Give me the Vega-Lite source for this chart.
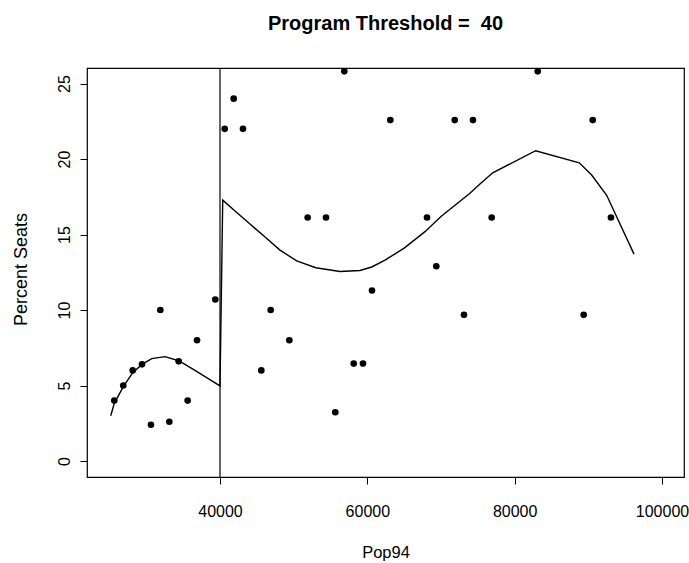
{
  "$schema": "https://vega.github.io/schema/vega-lite/v6.json",
  "autosize": "none",
  "width": 597,
  "height": 409,
  "padding": {"left": 87, "top": 68, "right": 5, "bottom": 86},
  "background": "white",
  "config": {
    "font": "Liberation Sans",
    "view": {"stroke": "black", "strokeWidth": 1.2},
    "axis": {"grid": false, "domain": false, "tickColor": "black", "tickSize": 7, "tickWidth": 1, "labelColor": "black", "titleColor": "black", "labelFont": "Liberation Sans", "titleFont": "Liberation Sans", "titleFontWeight": "normal"}
  },
  "title": {"text": "Program Threshold = \u00a040", "fontSize": 20, "fontWeight": "bold", "font": "Liberation Sans", "color": "black", "anchor": "middle", "baseline": "alphabetic", "offset": 17},
  "datasets": {
    "points": [
      {"Pop94": 25650, "Seats": 4.0}, {"Pop94": 26870, "Seats": 5.0}, {"Pop94": 28150, "Seats": 6.0},
      {"Pop94": 29410, "Seats": 6.4}, {"Pop94": 30630, "Seats": 2.4}, {"Pop94": 31900, "Seats": 10.0},
      {"Pop94": 33120, "Seats": 2.6}, {"Pop94": 34390, "Seats": 6.6}, {"Pop94": 35610, "Seats": 4.0},
      {"Pop94": 36880, "Seats": 8.0}, {"Pop94": 39360, "Seats": 10.7}, {"Pop94": 40640, "Seats": 22.0},
      {"Pop94": 41860, "Seats": 24.0}, {"Pop94": 43120, "Seats": 22.0}, {"Pop94": 45610, "Seats": 6.0},
      {"Pop94": 46880, "Seats": 10.0}, {"Pop94": 49410, "Seats": 8.0}, {"Pop94": 51900, "Seats": 16.13},
      {"Pop94": 54390, "Seats": 16.13}, {"Pop94": 55650, "Seats": 3.23}, {"Pop94": 56870, "Seats": 25.81},
      {"Pop94": 58150, "Seats": 6.45}, {"Pop94": 59410, "Seats": 6.45}, {"Pop94": 60630, "Seats": 11.29},
      {"Pop94": 63120, "Seats": 22.58}, {"Pop94": 68100, "Seats": 16.13}, {"Pop94": 69360, "Seats": 12.9},
      {"Pop94": 71860, "Seats": 22.58}, {"Pop94": 73120, "Seats": 9.68}, {"Pop94": 74340, "Seats": 22.58},
      {"Pop94": 76880, "Seats": 16.13}, {"Pop94": 83130, "Seats": 25.81}, {"Pop94": 89370, "Seats": 9.68},
      {"Pop94": 90590, "Seats": 22.58}, {"Pop94": 93070, "Seats": 16.13}
    ],
    "curve": [
      {"Pop94": 25170, "Seats": 3.0}, {"Pop94": 25650, "Seats": 3.82}, {"Pop94": 26870, "Seats": 4.92},
      {"Pop94": 28150, "Seats": 5.85}, {"Pop94": 29410, "Seats": 6.4}, {"Pop94": 30730, "Seats": 6.78},
      {"Pop94": 32530, "Seats": 6.91}, {"Pop94": 34390, "Seats": 6.64}, {"Pop94": 36380, "Seats": 6.07},
      {"Pop94": 38190, "Seats": 5.52}, {"Pop94": 40000, "Seats": 4.97}, {"Pop94": 40370, "Seats": 17.28},
      {"Pop94": 42000, "Seats": 16.58}, {"Pop94": 44070, "Seats": 15.7}, {"Pop94": 46000, "Seats": 14.88},
      {"Pop94": 48140, "Seats": 13.97}, {"Pop94": 50410, "Seats": 13.25}, {"Pop94": 53000, "Seats": 12.8},
      {"Pop94": 56290, "Seats": 12.55}, {"Pop94": 59000, "Seats": 12.62}, {"Pop94": 60600, "Seats": 12.85},
      {"Pop94": 62400, "Seats": 13.3}, {"Pop94": 65000, "Seats": 14.1}, {"Pop94": 67830, "Seats": 15.19},
      {"Pop94": 70000, "Seats": 16.2}, {"Pop94": 73930, "Seats": 17.73}, {"Pop94": 75290, "Seats": 18.34},
      {"Pop94": 77020, "Seats": 19.09}, {"Pop94": 82850, "Seats": 20.55}, {"Pop94": 88770, "Seats": 19.75},
      {"Pop94": 90450, "Seats": 18.94}, {"Pop94": 92490, "Seats": 17.6}, {"Pop94": 96200, "Seats": 13.7}
    ],
    "threshold": [{"Pop94": 40000}]
  },
  "layer": [
    {
      "data": {"name": "threshold"},
      "mark": {"type": "rule", "color": "black", "strokeWidth": 1.2},
      "encoding": {
        "x": {"field": "Pop94", "type": "quantitative", "scale": {"domain": [21946, 102986], "nice": false, "zero": false}}
      }
    },
    {
      "data": {"name": "curve"},
      "mark": {"type": "line", "color": "black", "strokeWidth": 1.4},
      "encoding": {
        "x": {"field": "Pop94", "type": "quantitative"},
        "y": {"field": "Seats", "type": "quantitative"}
      }
    },
    {
      "data": {"name": "points"},
      "mark": {"type": "circle", "color": "black", "opacity": 1, "size": 44},
      "encoding": {
        "x": {"field": "Pop94", "type": "quantitative", "scale": {"domain": [21946, 102986], "nice": false, "zero": false},
          "axis": {"title": "Pop94", "values": [40000, 60000, 80000, 100000], "format": "d", "labelFontSize": 16, "labelBaseline": "alphabetic", "labelPadding": 32, "labelFlush": false, "labelOverlap": false, "titleFontSize": 16.5, "titleBaseline": "alphabetic", "titleX": 298.5, "titleY": 80, "titleAnchor": "middle"}},
        "y": {"field": "Seats", "type": "quantitative", "scale": {"domain": [-1.06, 26.03], "nice": false, "zero": false},
          "axis": {"title": "Percent Seats", "values": [0, 5, 10, 15, 20, 25], "labelAngle": -90, "labelAlign": "center", "labelBaseline": "alphabetic", "labelFontSize": 16, "labelPadding": 11, "labelFlush": false, "labelOverlap": false, "titleFontSize": 18, "titleAngle": -90, "titleAlign": "center", "titleBaseline": "alphabetic", "titleX": -61, "titleY": 201}}
      }
    }
  ]
}
